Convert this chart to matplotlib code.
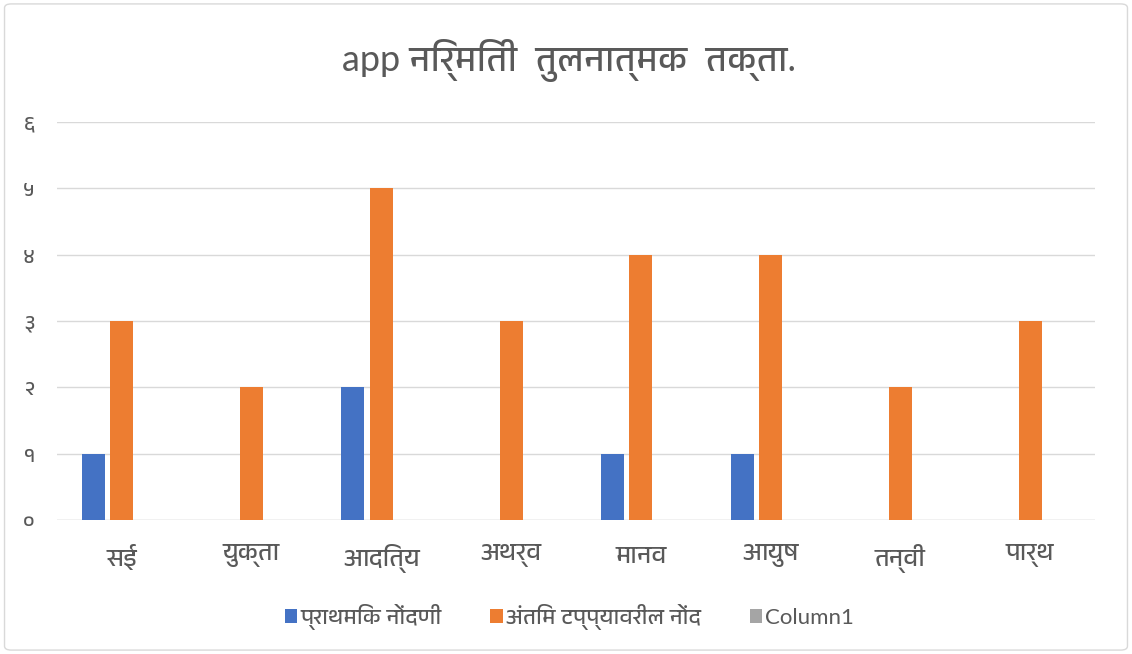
import matplotlib
matplotlib.use('Agg')
import matplotlib.pyplot as plt
from matplotlib import font_manager
from matplotlib.ft2font import FT2Font
from matplotlib.patches import FancyBboxPatch
import numpy as np

# 数据
categories = ['सई', 'युक्ता', 'आदित्य', 'अथर्व', 'मानव', 'आयुष', 'तन्वी', 'पार्थ']
primary = [1, 0, 2, 0, 1, 1, 0, 0]
final = [3, 2, 5, 3, 4, 4, 2, 3]
column1 = [0, 0, 0, 0, 0, 0, 0, 0]
series_names = ['प्राथमिक नोंदणी', 'अंतिम टप्प्यावरील नोंद', 'Column1']
y_ticks = [0, 1, 2, 3, 4, 5, 6]
y_tick_labels = ['०', '१', '२', '३', '४', '५', '६']
title = 'app निर्मिती  तुलनात्मक  तक्ता.'

# 查找支持天城文的字体，优先选择名字中带 Devanagari 的
deva_fonts = []
for f in font_manager.fontManager.ttflist:
    try:
        if 0x0915 in FT2Font(f.fname).get_charmap():
            deva_fonts.append(f.name)
    except Exception:
        continue
deva_font = None
for name in deva_fonts:
    if 'Devanagari' in name:
        deva_font = name
        break
if deva_font is None and deva_fonts:
    deva_font = deva_fonts[0]

families = ['Lato']
if deva_font:
    families.append(deva_font)
families.append('DejaVu Sans')
plt.rcParams['font.family'] = families

text_color = '#595959'
colors = ['#4472C4', '#ED7D31', '#A5A5A5']

fig = plt.figure(figsize=(11.32, 6.54), dpi=100)
fig.patches.append(FancyBboxPatch((0.004, 0.006), 0.992, 0.988, boxstyle='round,pad=0,rounding_size=0.006',
                                  transform=fig.transFigure, facecolor='none', edgecolor='#D9D9D9',
                                  linewidth=1, zorder=-1))
ax = fig.add_axes([57 / 1132, 1 - 520 / 654, 1038 / 1132, 398 / 654])
ax.set_facecolor('none')

x = np.arange(len(categories))
width = 0.177
offset = 0.22
for i, vals in enumerate([primary, final, column1]):
    ax.bar(x + (i - 1) * offset, vals, width, color=colors[i], label=series_names[i], zorder=3)

ax.set_xlim(-0.5, len(categories) - 0.5)
ax.set_ylim(0, 6)
ax.set_yticks(y_ticks)
ax.set_yticklabels(y_tick_labels, fontsize=15, color=text_color)
ax.set_xticks(x)
ax.set_xticklabels(categories, fontsize=18, color=text_color)
ax.tick_params(axis='both', length=0)
ax.tick_params(axis='y', pad=16)
ax.tick_params(axis='x', pad=17)
ax.grid(True, axis='y', color='#D9D9D9', linewidth=1, zorder=0)
for s in ax.spines.values():
    s.set_visible(False)
ax.axhline(0, color='#D9D9D9', linewidth=1, zorder=2)

fig.text(0.503, 1 - 60 / 654, title, ha='center', va='center', fontsize=26, color=text_color)

handles, labels = ax.get_legend_handles_labels()
fig.legend(handles, labels, loc='center', bbox_to_anchor=(0.503, 1 - 617 / 654), ncol=3, frameon=False,
           fontsize=16, labelcolor=text_color, handlelength=0.55, handleheight=0.55, handletextpad=0.15,
           columnspacing=2.2)

fig.savefig('out.png', dpi=100)
